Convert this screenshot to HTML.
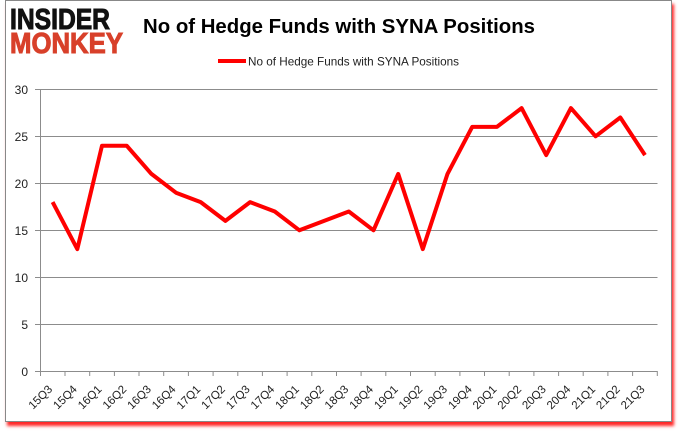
<!DOCTYPE html>
<html><head><meta charset="utf-8"><style>
html,body{margin:0;padding:0;background:#fff;}
body{width:678px;height:431px;position:relative;overflow:hidden;}
.frame{position:absolute;left:5px;top:0px;width:665px;height:420px;border:1px solid #888;background:#fff;box-shadow:2px 4px 3px rgba(255,0,0,0.85);}
svg{position:absolute;left:0;top:0;}
</style></head><body>
<div class="frame"></div>
<svg width="678" height="431" viewBox="0 0 678 431" xmlns="http://www.w3.org/2000/svg" font-family="'Liberation Sans', sans-serif">
<text x="10" y="29" font-size="29" font-weight="bold" fill="#111" stroke="#111" stroke-width="1" textLength="100" lengthAdjust="spacingAndGlyphs">INSIDER</text>
<text x="10" y="53" font-size="29" font-weight="bold" fill="#d8402a" stroke="#d8402a" stroke-width="1" textLength="113" lengthAdjust="spacingAndGlyphs">MONKEY</text>
<text x="143" y="33" font-size="20" font-weight="bold" fill="#000" textLength="392" lengthAdjust="spacingAndGlyphs">No of Hedge Funds with SYNA Positions</text>
<line x1="218" y1="61" x2="246" y2="61" stroke="#ff0000" stroke-width="4"/>
<text x="248" y="65.5" font-size="12" fill="#222" textLength="211" lengthAdjust="spacingAndGlyphs">No of Hedge Funds with SYNA Positions</text>
<g stroke="#8c8c8c" stroke-width="1">
<line x1="35" y1="89.5" x2="657.5" y2="89.5"/>
<line x1="35" y1="136.5" x2="657.5" y2="136.5"/>
<line x1="35" y1="183.5" x2="657.5" y2="183.5"/>
<line x1="35" y1="230.5" x2="657.5" y2="230.5"/>
<line x1="35" y1="277.5" x2="657.5" y2="277.5"/>
<line x1="35" y1="324.5" x2="657.5" y2="324.5"/>
<line x1="35" y1="371.5" x2="657.5" y2="371.5"/>
<line x1="40.5" y1="89.5" x2="40.5" y2="371.5"/>
</g>
<g font-size="12" fill="#222" text-anchor="end">
<text x="28" y="94">30</text>
<text x="28" y="141">25</text>
<text x="28" y="188">20</text>
<text x="28" y="235">15</text>
<text x="28" y="282">10</text>
<text x="28" y="329">5</text>
<text x="28" y="376">0</text>
</g>
<g stroke="#8c8c8c" stroke-width="1">
<line x1="40.5" y1="371" x2="40.5" y2="376"/><line x1="65" y1="371" x2="65" y2="376"/><line x1="89.7" y1="371" x2="89.7" y2="376"/><line x1="114.4" y1="371" x2="114.4" y2="376"/><line x1="139" y1="371" x2="139" y2="376"/><line x1="163.7" y1="371" x2="163.7" y2="376"/><line x1="188.4" y1="371" x2="188.4" y2="376"/><line x1="213.1" y1="371" x2="213.1" y2="376"/><line x1="237.8" y1="371" x2="237.8" y2="376"/><line x1="262.4" y1="371" x2="262.4" y2="376"/><line x1="287.1" y1="371" x2="287.1" y2="376"/><line x1="311.8" y1="371" x2="311.8" y2="376"/><line x1="336.5" y1="371" x2="336.5" y2="376"/><line x1="361.1" y1="371" x2="361.1" y2="376"/><line x1="385.8" y1="371" x2="385.8" y2="376"/><line x1="410.5" y1="371" x2="410.5" y2="376"/><line x1="435.2" y1="371" x2="435.2" y2="376"/><line x1="459.9" y1="371" x2="459.9" y2="376"/><line x1="484.5" y1="371" x2="484.5" y2="376"/><line x1="509.2" y1="371" x2="509.2" y2="376"/><line x1="533.9" y1="371" x2="533.9" y2="376"/><line x1="558.6" y1="371" x2="558.6" y2="376"/><line x1="583.2" y1="371" x2="583.2" y2="376"/><line x1="607.9" y1="371" x2="607.9" y2="376"/><line x1="632.6" y1="371" x2="632.6" y2="376"/><line x1="657.3" y1="371" x2="657.3" y2="376"/>
</g>
<g font-size="11.5" fill="#222" text-anchor="end">
<text x="53" y="390" transform="rotate(-45 53 390)">15Q3</text>
<text x="77.7" y="390" transform="rotate(-45 77.7 390)">15Q4</text>
<text x="102.4" y="390" transform="rotate(-45 102.4 390)">16Q1</text>
<text x="127.1" y="390" transform="rotate(-45 127.1 390)">16Q2</text>
<text x="151.8" y="390" transform="rotate(-45 151.8 390)">16Q3</text>
<text x="176.4" y="390" transform="rotate(-45 176.4 390)">16Q4</text>
<text x="201.1" y="390" transform="rotate(-45 201.1 390)">17Q1</text>
<text x="225.8" y="390" transform="rotate(-45 225.8 390)">17Q2</text>
<text x="250.5" y="390" transform="rotate(-45 250.5 390)">17Q3</text>
<text x="275.2" y="390" transform="rotate(-45 275.2 390)">17Q4</text>
<text x="299.8" y="390" transform="rotate(-45 299.8 390)">18Q1</text>
<text x="324.5" y="390" transform="rotate(-45 324.5 390)">18Q2</text>
<text x="349.2" y="390" transform="rotate(-45 349.2 390)">18Q3</text>
<text x="373.9" y="390" transform="rotate(-45 373.9 390)">18Q4</text>
<text x="398.6" y="390" transform="rotate(-45 398.6 390)">19Q1</text>
<text x="423.2" y="390" transform="rotate(-45 423.2 390)">19Q2</text>
<text x="447.9" y="390" transform="rotate(-45 447.9 390)">19Q3</text>
<text x="472.6" y="390" transform="rotate(-45 472.6 390)">19Q4</text>
<text x="497.3" y="390" transform="rotate(-45 497.3 390)">20Q1</text>
<text x="522" y="390" transform="rotate(-45 522 390)">20Q2</text>
<text x="546.6" y="390" transform="rotate(-45 546.6 390)">20Q3</text>
<text x="571.3" y="390" transform="rotate(-45 571.3 390)">20Q4</text>
<text x="596" y="390" transform="rotate(-45 596 390)">21Q1</text>
<text x="620.7" y="390" transform="rotate(-45 620.7 390)">21Q2</text>
<text x="645.4" y="390" transform="rotate(-45 645.4 390)">21Q3</text>
</g>
<polyline fill="none" stroke="#ff0000" stroke-width="4" stroke-linejoin="round" stroke-linecap="butt" points="52.6,202.1 77.3,249.1 102,145.7 126.7,145.7 151.4,173.9 176,192.7 200.7,202.1 225.4,220.9 250.1,202.1 274.8,211.5 299.4,230.3 324.1,220.9 348.8,211.5 373.5,230.3 398.2,173.9 422.8,249.1 447.5,173.9 472.2,126.9 496.9,126.9 521.6,108.1 546.2,155.1 570.9,108.1 595.6,136.3 620.3,117.5 645,155.1"/>
</svg>
</body></html>
